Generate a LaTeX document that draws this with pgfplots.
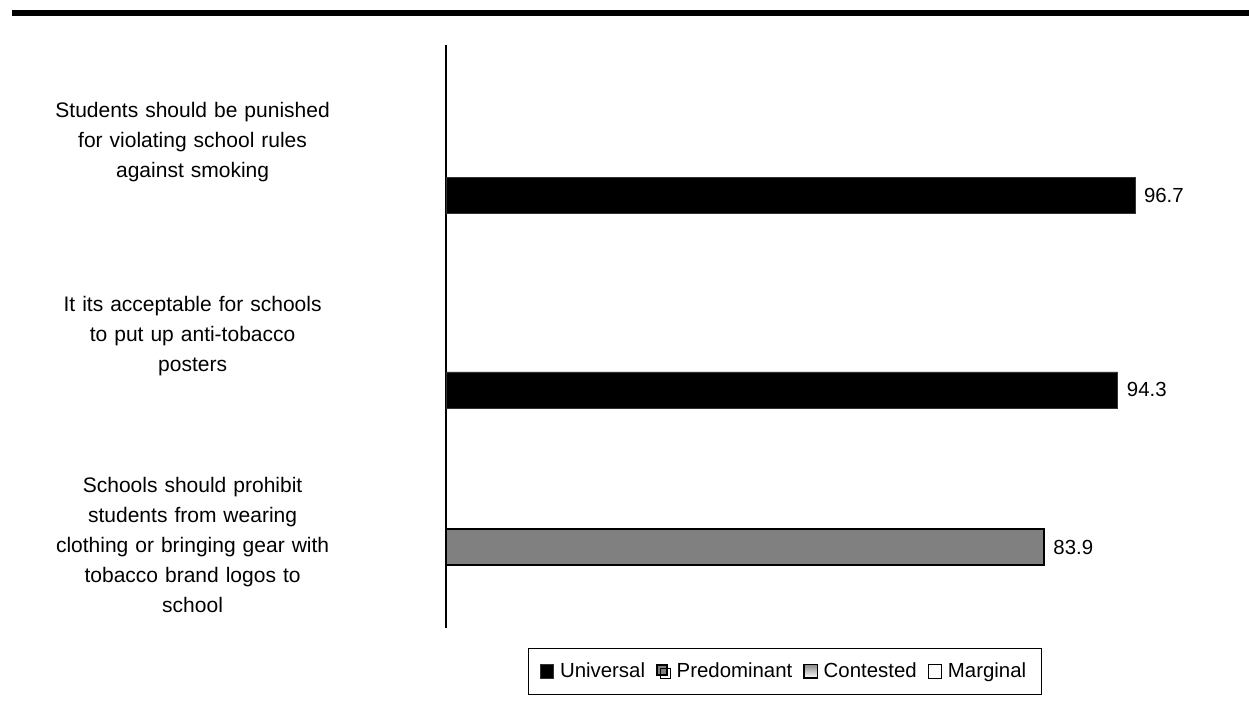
\documentclass[border=0pt]{standalone}
\usepackage{pgfplots}
\pgfplotsset{compat=1.18}
\usepackage{fontspec}
\setmainfont{Liberation Sans}

\definecolor{predgray}{RGB}{128,128,128}

\begin{document}
\begin{tikzpicture}[x=1pt,y=1pt]
\path[use as bounding box] (0,0) rectangle (624.5,354);
% heavy rule across the top
\draw[line width=3pt] (6,347.5) -- (624.5,347.5);
\begin{axis}[
  at={(223pt,40pt)}, anchor=south west,
  scale only axis,
  width=356.25pt, height=291.5pt,
  xmin=0, xmax=100,
  ymin=0.5, ymax=3.5,
  axis x line=none,
  axis y line*=left,
  y axis line style={-, black, line width=0.6pt},
  ytick={0.927,2,3},
  yticklabels={
    {Schools should prohibit\\students from wearing\\clothing or bringing gear with\\tobacco brand logos to\\school},
    {It its acceptable for schools\\to put up anti-tobacco\\posters},
    {Students should be punished\\for violating school rules\\against smoking}},
  major tick length=0pt,
  y tick label style={align=center, text width=150pt, inner sep=0pt,
    font=\fontsize{10.5}{15}\selectfont, xshift=-51.5pt},
  legend columns=4,
  legend style={at={(0.4758,-0.0746)}, anchor=center, draw=black, line width=0.6pt,
    font=\fontsize{10.2}{12}\selectfont, inner xsep=5.5pt, inner ysep=5pt,
    /tikz/every even column/.append style={column sep=3.5pt},
    /tikz/every odd column/.append style={column sep=1pt}},
  legend cell align=left,
  legend image code/.code={\draw[#1, line width=0.5pt] (0pt,-3.3pt) rectangle (6.6pt,3.3pt);},
]
% Universal
\addplot[xbar, bar width=0.185, bar shift=0pt, fill=black, draw=black!80,
  nodes near coords, point meta=explicit symbolic,
  every node near coord/.style={anchor=west, font=\fontsize{10.2}{12}\selectfont, black, xshift=1pt}]
  coordinates {(96.7,2.725) [96.7] (94.3,1.725) [94.3]};
\addlegendentry{Universal}
% Predominant
\addplot[xbar, bar width=0.185, bar shift=0pt, fill=predgray, draw=black, line width=1pt,
  nodes near coords, point meta=explicit symbolic,
  every node near coord/.style={anchor=west, font=\fontsize{10.2}{12}\selectfont, black, xshift=1pt},
  legend image code/.code={
    \fill[fill=predgray] (0pt,-1.6pt) rectangle (5pt,3.3pt);
    \draw[draw=black, fill=none, line width=0.4pt] (1.6pt,-3.3pt) rectangle (6.6pt,1.7pt);}]
  coordinates {(83.9,0.915) [83.9]};
\addlegendentry{Predominant}
% Contested and Marginal have no bars here
\addlegendimage{legend image code/.code={
    \shade[top color=black!45, bottom color=white] (0pt,-3.3pt) rectangle (6.6pt,3.3pt);
    \draw[draw=black, fill=none, line width=0.5pt] (0pt,-3.3pt) rectangle (6.6pt,3.3pt);}}
\addlegendentry{Contested}
\addlegendimage{fill=white, draw=black}
\addlegendentry{Marginal}
\end{axis}
\end{tikzpicture}
\end{document}
